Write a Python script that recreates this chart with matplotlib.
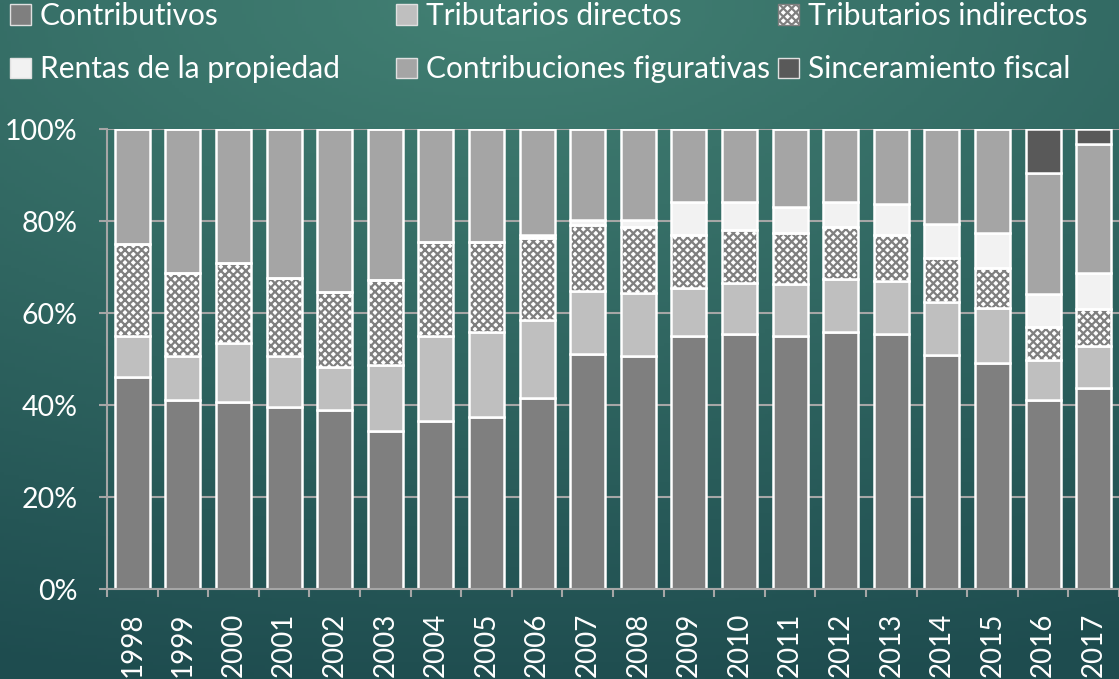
import matplotlib.pyplot as plt
import numpy as np
from matplotlib.patches import Patch

plt.rcParams['font.family'] = ['Lato', 'DejaVu Sans']
plt.rcParams['hatch.linewidth'] = 1.6

# data (shares in %)
years = [str(y) for y in range(1998, 2018)]
contributivos = [46.0, 41.1, 40.7, 39.6, 39.0, 34.3, 36.5, 37.5, 41.6, 51.1,
                 50.7, 54.9, 55.4, 54.9, 55.9, 55.4, 50.8, 49.2, 41.1, 43.7]
trib_directos = [9.0, 9.6, 12.7, 11.1, 9.2, 14.4, 18.5, 18.4, 16.9, 13.7,
                 13.6, 10.6, 11.2, 11.5, 11.6, 11.6, 11.7, 11.8, 8.7, 9.1]
trib_indirectos = [20.1, 18.1, 17.5, 17.0, 16.3, 18.5, 20.4, 19.5, 17.9, 14.3,
                   14.3, 11.5, 11.4, 11.1, 11.1, 10.0, 9.4, 8.7, 7.2, 8.0]
rentas = [0, 0, 0, 0, 0, 0, 0, 0, 0.6, 1.1,
          1.6, 7.1, 6.1, 5.6, 5.5, 6.6, 7.4, 7.6, 7.1, 8.0]
figurativas = [24.9, 31.2, 29.1, 32.3, 35.5, 32.8, 24.6, 24.6, 23.0, 19.8,
               19.8, 15.9, 15.9, 16.9, 15.9, 16.4, 20.7, 22.7, 26.3, 27.9]
sinceramiento = [0, 0, 0, 0, 0, 0, 0, 0, 0, 0,
                 0, 0, 0, 0, 0, 0, 0, 0, 9.6, 3.3]

labels = ['Contributivos', 'Tributarios directos', 'Tributarios indirectos',
          'Rentas de la propiedad', 'Contribuciones figurativas', 'Sinceramiento fiscal']
colors = ['#7f7f7f', '#bfbfbf', 'white', '#f2f2f2', '#a5a5a5', '#595959']
series = [contributivos, trib_directos, trib_indirectos, rentas, figurativas, sinceramiento]

fig = plt.figure(figsize=(11.19, 6.79), dpi=100)

# background gradient
bg = fig.add_axes([0, 0, 1, 1], zorder=-10)
gx, gy = np.meshgrid(np.linspace(0, 1, 300), np.linspace(1, 0, 200))
d = np.sqrt(((gx - 0.45) * 1.0) ** 2 + ((gy - 1.0) * 1.3) ** 2)
d = np.clip(d / 1.35, 0, 1)[..., None]
c1 = np.array([66, 128, 115]) / 255
c2 = np.array([30, 76, 79]) / 255
bg.imshow(c1 * (1 - d) + c2 * d, aspect='auto', extent=[0, 1, 0, 1])
bg.axis('off')

ax = fig.add_axes([0.0956, 0.1325, 0.9044, 0.6775])
ax.patch.set_alpha(0)
x = np.arange(len(years))
bottom = np.zeros(len(years))
w = 0.69
for vals, col, lab in zip(series, colors, labels):
    vals = np.array(vals)
    if lab == 'Tributarios indirectos':
        ax.bar(x, vals, w, bottom=bottom, color='white', edgecolor='#7f7f7f',
               hatch='xxxx', linewidth=0, zorder=2)
        ax.bar(x, vals, w, bottom=bottom, fill=False, edgecolor='white',
               linewidth=1.8, zorder=3)
    else:
        ax.bar(x, vals, w, bottom=bottom, color=col, edgecolor='white',
               linewidth=1.8, zorder=2)
    bottom += vals

ax.set_xlim(-0.5, 19.5)
ax.set_ylim(0, 100)
ax.set_yticks(range(0, 101, 20))
ax.set_yticklabels([f'{v}%' for v in range(0, 101, 20)])
ax.set_xticks(x)
ax.set_xticklabels(years, rotation=90)
ax.set_xticks(np.arange(-0.5, 20, 1), minor=True)
ax.tick_params(axis='x', which='major', length=0, pad=17, labelsize=20, labelcolor='white')
ax.tick_params(axis='x', which='minor', length=6, width=1.5, color='#a6a6a6', direction='out')
ax.tick_params(axis='y', length=6, width=1.5, color='#a6a6a6', pad=15,
               labelsize=20.5, labelcolor='white')
ax.grid(axis='y', color='#a6a6a6', linewidth=1.5, zorder=0)
ax.set_axisbelow(True)
for s in ['top', 'right']:
    ax.spines[s].set_visible(False)
for s in ['left', 'bottom']:
    ax.spines[s].set_color('#a6a6a6')
    ax.spines[s].set_linewidth(1.5)

# legend: three columns of equal width, like the original
handles = []
for col, lab in zip(colors, labels):
    if lab == 'Tributarios indirectos':
        handles.append(Patch(facecolor='white', edgecolor='#7f7f7f', hatch='xxxx', label=lab))
    else:
        handles.append(Patch(facecolor=col, edgecolor='#e0e0e0', label=lab))
xpos = [0.009, 0.354, 0.695]
for i in range(3):
    fig.legend([handles[i], handles[i + 3]], [labels[i], labels[i + 3]],
               loc='upper left', bbox_to_anchor=(xpos[i], 0.997), frameon=False,
               fontsize=21.5, labelcolor='white', handlelength=0.7, handleheight=0.7,
               handletextpad=0.3, borderpad=0.0, borderaxespad=0.0, labelspacing=0.85)

fig.savefig('out.png', dpi=100)
